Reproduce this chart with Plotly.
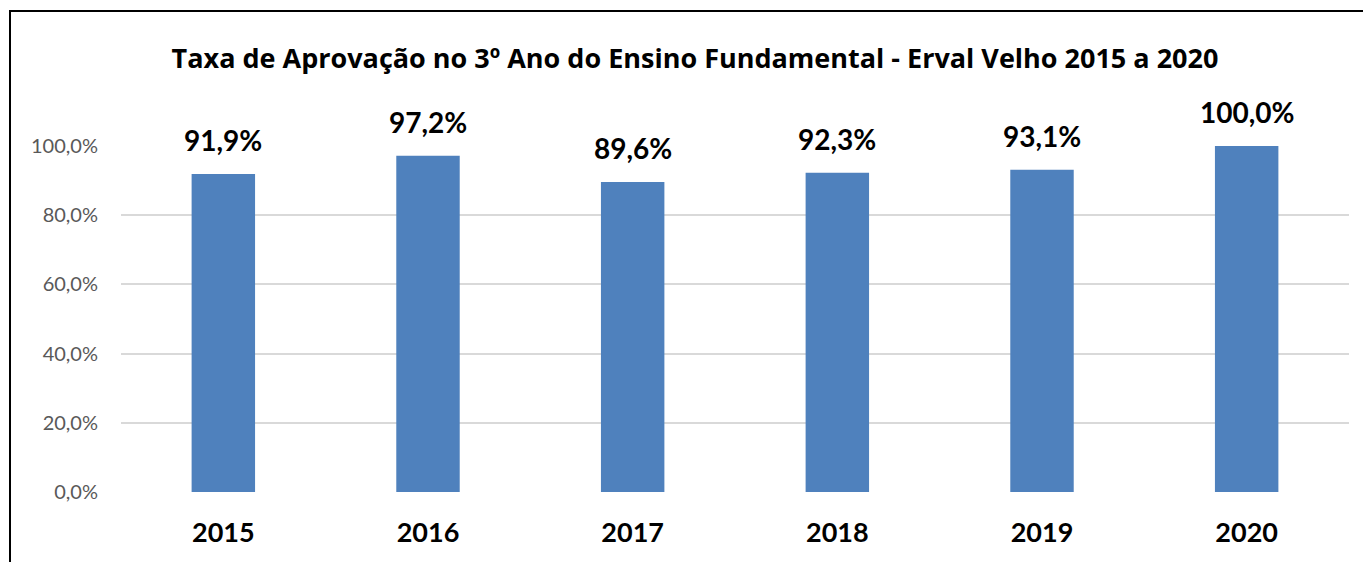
import plotly.graph_objects as go

years = ["2015", "2016", "2017", "2018", "2019", "2020"]
rates = [91.9, 97.2, 89.6, 92.3, 93.1, 100.0]
tick_vals = [0, 20, 40, 60, 80, 100]
tick_text = ["0,0%", "20,0%", "40,0%", "60,0%", "80,0%", "100,0%"]
title = "Taxa de Aprovação no 3º Ano do Ensino Fundamental - Erval Velho 2015 a 2020"

labels = [f"{v:.1f}%".replace(".", ",") for v in rates]

# page body has an 8px margin; work in page pixels and convert
OFF = 8
W, H = 1371 - OFF, 562 - OFF
ml, mr, mt, mb = 121 - OFF, 22, 146 - OFF, 70
pw, ph = W - ml - mr, H - mt - mb

def px_x(x):  # page px -> paper x
    return (x - OFF - ml) / pw

def px_y(y):  # page px -> paper y
    return (H - mb - (y - OFF)) / ph

fig = go.Figure(go.Bar(
    x=years, y=rates,
    marker=dict(color="#4F81BD", line=dict(width=0)),
    cliponaxis=False,
))

for i, (v, lab) in enumerate(zip(rates, labels)):
    fig.add_annotation(x=i, y=v, xref="x", yref="y", text=lab, showarrow=False,
                       yanchor="bottom", yshift=15,
                       font=dict(family="Lato", size=28, color="black", weight="bold"))

fig.update_layout(
    width=W, height=H,
    margin=dict(l=ml, r=mr, t=mt, b=mb),
    paper_bgcolor="white", plot_bgcolor="white",
    bargap=0.69,
    showlegend=False,
    font=dict(family="Lato"),
    title=dict(text=title, x=px_x(695), xref="paper", xanchor="center",
               y=1 - (59 - OFF) / H, yanchor="middle",
               font=dict(family="Open Sans", size=27, color="black", weight="bold")),
    xaxis=dict(type="category", range=[-0.5, len(years) - 0.5],
               showgrid=False, showline=False, ticks="",
               ticklabelstandoff=22,
               tickfont=dict(family="Lato", size=27, color="black", weight="bold")),
    yaxis=dict(range=[0, 100], tickvals=tick_vals, ticktext=tick_text,
               showgrid=True, gridcolor="#D9D9D9", gridwidth=2,
               zeroline=False, showline=False, ticks="", ticklabelstandoff=22,
               tickfont=dict(family="Lato", size=20, color="#595959")),
    shapes=[dict(type="rect", xref="paper", yref="paper",
                 x0=px_x(10), x1=px_x(1420), y0=px_y(620), y1=px_y(11),
                 line=dict(color="black", width=2), layer="above")],
)

fig.write_html("out.html")
